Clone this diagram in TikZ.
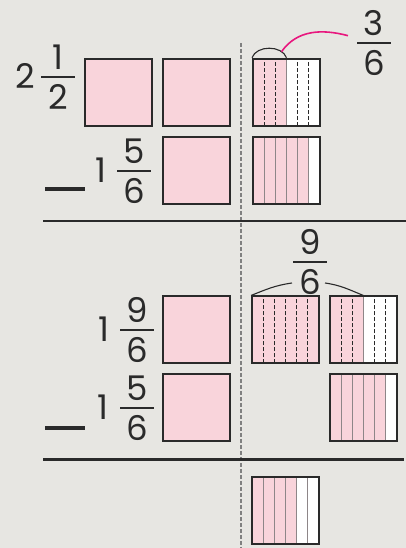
\documentclass[tikz,border=0pt]{standalone}
\usepackage{fontspec}
\setmainfont{Poppins}
\usetikzlibrary{positioning, calc}
\definecolor{bg}{HTML}{E7E6E2}
\definecolor{pinkfill}{HTML}{F9D4DB}
\definecolor{ink}{HTML}{2A2A2A}
\definecolor{subgrey}{HTML}{8E8688}
\definecolor{hookpink}{HTML}{E8177E}

% mixed-number fraction: name, bar centre, numerator, denominator
\newcommand\mixfrac[4]{%
  \coordinate (#1) at #2;
  \node[digit, anchor=base] (#1-num) at ([yshift=7pt]#1) {#3};
  \node[digit, anchor=base] (#1-den) at ([yshift=-33pt]#1) {#4};
  \draw[fbar] ([xshift=-17pt]#1) -- ([xshift=17pt]#1);
}

\begin{document}
\begin{tikzpicture}[
    x=1pt, y=1pt,
    node distance=9pt,
    digit/.style={font=\fontsize{34}{40}\selectfont, text=ink, inner sep=0pt},
    fbar/.style={draw=ink, line width=2pt},
    sq/.style={draw=ink, line width=2pt, fill=pinkfill, minimum size=67pt, inner sep=0pt},
    sub/.style={draw=subgrey, line width=1.1pt},
    subdash/.style={draw=ink, line width=1.1pt, dash pattern=on 4pt off 2pt},
    strips/.style n args={3}{sq, fill=white, path picture={
        \fill[pinkfill] (path picture bounding box.south west) rectangle
          ($(path picture bounding box.north west)!#1/6!(path picture bounding box.north east)$);
        \foreach \k in {1,...,5}
          \draw[#3] ($(path picture bounding box.south west)!\k/6!(path picture bounding box.south east)$)
            -- ($(path picture bounding box.north west)!\k/6!(path picture bounding box.north east)$);
        \draw[#2] ($(path picture bounding box.south west)!.5!(path picture bounding box.south east)$)
            -- ($(path picture bounding box.north west)!.5!(path picture bounding box.north east)$);
      }},
    rule/.style={draw=ink, line width=2.7pt},
    minus/.style={draw=ink, line width=3.6pt},
    split/.style={draw=gray, line width=1.2pt, dash pattern=on 4pt off 2pt},
    brace/.style={draw=ink, line width=1.1pt},
    hook/.style={draw=hookpink, line width=1.6pt}
  ]
    \fill[bg] (0,0) rectangle (406,548);
    \useasboundingbox (0,0) rectangle (406,548);

    % split line and rules
    \draw[split] (241,505) -- (241,0);
    \draw[rule] (43,327) -- (406,327);
    \draw[rule] (43,88.7) -- (404,88.7);

    % first subtraction
    \node[digit, anchor=base] (w1) at (25,459.3) {2};
    \mixfrac{f1}{(58,471.3)}{1}{2}
    \node[sq] (a1) at (118.5,455.8) {};
    \node[sq, right=of a1] (a2) {};
    \node[sq, below=of a2] (a3) {};
    \draw[minus] (45,359) -- (85,359);
    \node[digit, anchor=base] (w2) at (101,365) {1};
    \mixfrac{f2}{(134,377)}{5}{6}
    \node[strips={3}{sub}{subdash}] (s1) at (286.5,455.8) {};
    \node[strips={5}{sub}{sub}, below=of s1] (s2) {};
    \draw[brace] (s1.north west) to[out=70, in=110] coordinate[pos=0.8] (tip) (s1.north);
    \mixfrac{f3}{(374,505.3)}{3}{6}
    \draw[hook] (tip) to[out=55, in=165] ([shift={(-26pt,7pt)}]f3);

    % regrouped subtraction
    \node[digit, anchor=base] (w3) at (103.5,206) {1};
    \mixfrac{f5}{(137,218)}{9}{6}
    \node[sq] (a4) at (196.5,218) {};
    \node[sq, below=of a4] (a5) {};
    \draw[minus] (45,120) -- (85,120);
    \node[digit, anchor=base] (w4) at (103,128) {1};
    \mixfrac{f6}{(137,140)}{5}{6}
    \node[strips={6}{subdash}{subdash}] (s3) at (285.5,218) {};
    \node[strips={3}{sub}{subdash}, right=of s3] (s4) {};
    \node[strips={5}{sub}{sub}, below=of s4] (s5) {};
    \mixfrac{f4}{(310,286)}{9}{6}
    \draw[brace] (s3.north west) to[out=22, in=188] ([shift={(-18pt,-21pt)}]f4);
    \draw[brace] ([shift={(15pt,-21pt)}]f4) to[out=-8, in=158] (s4.north);

    % result
    \node[strips={4}{sub}{sub}] (s6) at (285.5,37.5) {};
\end{tikzpicture}
\end{document}
